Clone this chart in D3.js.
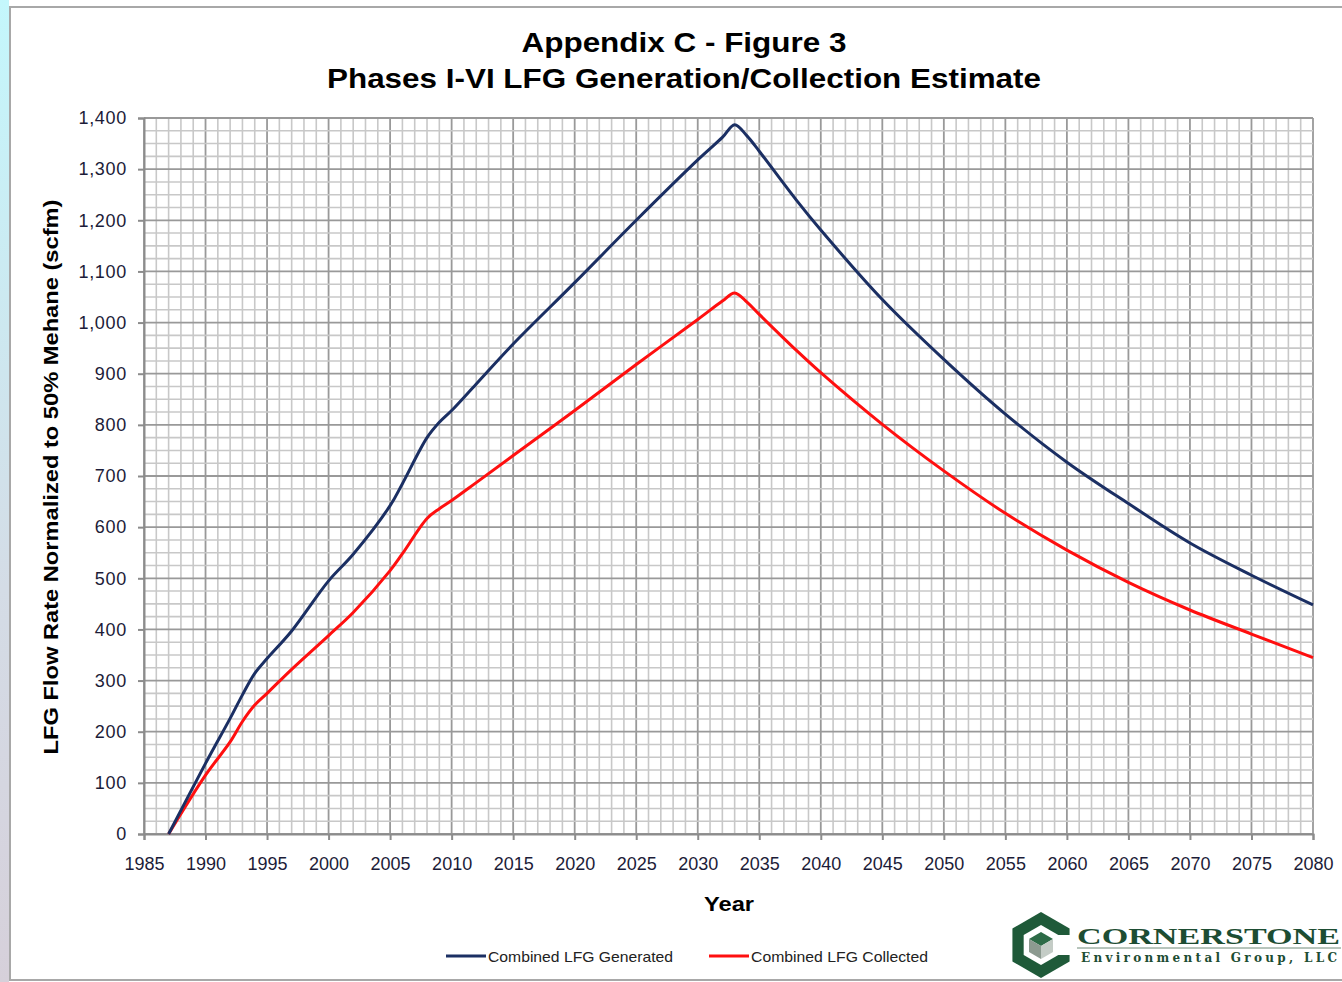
<!DOCTYPE html>
<html>
<head>
<meta charset="utf-8">
<script src="https://cdn.jsdelivr.net/npm/d3@7"></script>
<style>
  body { margin: 0; background: #fff; }
  svg { display: block; }
</style>
</head>
<body>
<div class="chart"></div>
<script>
const years = [1987, 1990, 1992, 1993, 1994, 1995, 1997, 2000, 2002, 2005, 2006, 2008, 2009, 2010, 2012,
  2015, 2020, 2025, 2030, 2032, 2033, 2034, 2035, 2038, 2040, 2045, 2050, 2055, 2060, 2065, 2070, 2075, 2080];
const generated = [0, 138, 226, 272, 314, 343, 397, 495, 547, 642, 685, 775, 805, 828, 880,
  958, 1078, 1200, 1318, 1362, 1387, 1365, 1335, 1240, 1181, 1045, 928, 821, 727, 646, 569, 506, 448];
const collected = [0, 115, 180, 220, 252, 275, 322, 388, 433, 515, 548, 617, 636, 652, 687,
  740, 828, 918, 1006, 1042, 1058, 1040, 1016, 946, 902, 801, 710, 627, 555, 492, 438, 391, 345];
const seriesNames = ['Combined LFG Generated', 'Combined LFG Collected'];
const yTicks = d3.range(0, 1401, 100);
const xTicks = d3.range(1985, 2081, 5);

const svgWidth = 1342,
  svgHeight = 982,
  plotLeft = 144,
  plotRight = 1313,
  plotTop = 118,
  plotBottom = 834,
  genColor = '#1b2f63',
  colColor = '#ff0f0f',
  textColor = '#1c1c38',
  font = 'Arial, "Liberation Sans", sans-serif';

const svg = d3.select('.chart')
  .append('svg')
  .attr('width', svgWidth)
  .attr('height', svgHeight);

// page edge + frame
const grad = svg.append('defs').append('linearGradient')
  .attr('id', 'edge').attr('x1', 0).attr('y1', 0).attr('x2', 0).attr('y2', 1);
grad.append('stop').attr('offset', '0%').attr('stop-color', '#c4f7fc');
grad.append('stop').attr('offset', '60%').attr('stop-color', '#d4dce6');
grad.append('stop').attr('offset', '100%').attr('stop-color', '#d6d0da');

svg.append('rect').attr('x', 0).attr('y', 0).attr('width', 9).attr('height', svgHeight).attr('fill', 'url(#edge)');
svg.append('rect')
  .attr('x', 10).attr('y', 7).attr('width', svgWidth).attr('height', 973)
  .attr('fill', '#fff').attr('stroke', '#a8a8a8').attr('stroke-width', 2);

const xScale = d3.scaleLinear().domain([1985, 2080]).range([plotLeft, plotRight]);
const yScale = d3.scaleLinear().domain([0, 1400]).range([plotBottom, plotTop]);

// grid: minor every year / 25, major every 5 years / 100
const grid = svg.append('g');
grid.selectAll('.vline')
  .data(d3.range(1985, 2081, 1))
  .enter().append('line')
  .attr('x1', d => xScale(d)).attr('x2', d => xScale(d))
  .attr('y1', plotTop).attr('y2', plotBottom)
  .attr('stroke', d => d % 5 === 0 ? '#999' : '#c8c8c8')
  .attr('stroke-width', d => d % 5 === 0 ? 1.8 : 1.6);

grid.selectAll('.hline')
  .data(d3.range(0, 1401, 25))
  .enter().append('line')
  .attr('x1', plotLeft).attr('x2', plotRight)
  .attr('y1', d => yScale(d)).attr('y2', d => yScale(d))
  .attr('stroke', d => d % 100 === 0 ? '#999' : '#c8c8c8')
  .attr('stroke-width', d => d % 100 === 0 ? 1.8 : 1.6);

// axes
const yAxis = d3.axisLeft(yScale)
  .tickValues(yTicks)
  .tickSize(6)
  .tickPadding(11)
  .tickFormat(d3.format(','));

const xAxis = d3.axisBottom(xScale)
  .tickValues(xTicks)
  .tickSize(6)
  .tickPadding(17)
  .tickFormat(d3.format(''));

const gy = svg.append('g')
  .attr('transform', `translate(${plotLeft}, 0)`)
  .call(yAxis);
gy.select('.domain').attr('stroke', '#8c8c8c').attr('stroke-width', 2);
gy.selectAll('line').attr('stroke', '#8c8c8c').attr('stroke-width', 2);
gy.selectAll('text').style('font', `18px ${font}`).style('letter-spacing', '0.7px').attr('fill', textColor);

const gx = svg.append('g')
  .attr('transform', `translate(0, ${plotBottom})`)
  .call(xAxis);
gx.select('.domain').attr('stroke', '#8c8c8c').attr('stroke-width', 2);
gx.selectAll('line').attr('stroke', '#8c8c8c').attr('stroke-width', 2);
gx.selectAll('text').style('font', `18px ${font}`).attr('fill', textColor);

// series
const rows = years.map((y, i) => ({ year: y, gen: generated[i], col: collected[i] }));

const genLine = d3.line()
  .x(d => xScale(d.year))
  .y(d => yScale(d.gen))
  .curve(d3.curveCatmullRom.alpha(0.5));

const colLine = d3.line()
  .x(d => xScale(d.year))
  .y(d => yScale(d.col))
  .curve(d3.curveCatmullRom.alpha(0.5));

svg.append('path')
  .attr('d', colLine(rows))
  .attr('stroke', colColor)
  .attr('stroke-width', 3)
  .attr('fill', 'none');

svg.append('path')
  .attr('d', genLine(rows))
  .attr('stroke', genColor)
  .attr('stroke-width', 3)
  .attr('fill', 'none');

// titles
svg.append('text')
  .attr('x', 684).attr('y', 52)
  .attr('text-anchor', 'middle')
  .attr('textLength', 325).attr('lengthAdjust', 'spacingAndGlyphs')
  .style('font', `bold 27px ${font}`)
  .attr('fill', '#000')
  .text('Appendix C - Figure 3');

svg.append('text')
  .attr('x', 684).attr('y', 88)
  .attr('text-anchor', 'middle')
  .attr('textLength', 714).attr('lengthAdjust', 'spacingAndGlyphs')
  .style('font', `bold 27px ${font}`)
  .attr('fill', '#000')
  .text('Phases I-VI LFG Generation/Collection Estimate');

svg.append('text')
  .attr('transform', `translate(58, 477) rotate(-90)`)
  .attr('text-anchor', 'middle')
  .attr('textLength', 555).attr('lengthAdjust', 'spacingAndGlyphs')
  .style('font', `bold 21px ${font}`)
  .attr('fill', '#000')
  .text('LFG Flow Rate Normalized to 50% Mehane (scfm)');

svg.append('text')
  .attr('x', 729).attr('y', 911)
  .attr('text-anchor', 'middle')
  .attr('textLength', 50).attr('lengthAdjust', 'spacingAndGlyphs')
  .style('font', `bold 21px ${font}`)
  .attr('fill', '#000')
  .text('Year');

// legend
const legend = svg.append('g');
[genColor, colColor].forEach((c, i) => {
  const x0 = i === 0 ? 446 : 709;
  legend.append('line')
    .attr('x1', x0).attr('x2', x0 + 40)
    .attr('y1', 956).attr('y2', 956)
    .attr('stroke', c).attr('stroke-width', 3);
  legend.append('text')
    .attr('x', x0 + 42).attr('y', 962)
    .attr('textLength', i === 0 ? 185 : 177).attr('lengthAdjust', 'spacingAndGlyphs')
    .style('font', `15px ${font}`)
    .attr('fill', '#222')
    .text(seriesNames[i]);
});

// logo
const logo = svg.append('g').attr('transform', 'translate(1041, 945)');
const hex = r => d3.range(6).map(k => {
  const a = (Math.PI / 3) * k - Math.PI / 2;
  return [r * Math.cos(a), r * Math.sin(a)];
});
logo.append('polygon').attr('points', hex(33).join(' ')).attr('fill', '#1f5a39');
logo.append('polygon').attr('points', hex(20).join(' ')).attr('fill', '#fff');
logo.append('rect').attr('x', 14).attr('y', -10).attr('width', 20).attr('height', 20).attr('fill', '#fff');
logo.append('polygon').attr('points', '0,-13 12,-6 0,1 -12,-6').attr('fill', '#2d6b47');
logo.append('polygon').attr('points', '-12,-6 0,1 0,14 -12,7').attr('fill', '#8c9a90');
logo.append('polygon').attr('points', '0,1 12,-6 12,7 0,14').attr('fill', '#c4ccc6');

svg.append('text')
  .attr('x', 1077).attr('y', 944)
  .attr('textLength', 263).attr('lengthAdjust', 'spacingAndGlyphs')
  .style('font', 'bold 24px "Liberation Serif", "DejaVu Serif", serif')
  .attr('fill', '#1d4d33')
  .text('CORNERSTONE');
svg.append('line')
  .attr('x1', 1077).attr('x2', 1341).attr('y1', 948).attr('y2', 948)
  .attr('stroke', '#6f8a78').attr('stroke-width', 1);
svg.append('text')
  .attr('x', 1081).attr('y', 962)
  .attr('textLength', 256).attr('lengthAdjust', 'spacing')
  .style('font', 'bold 12px "DejaVu Serif", "Liberation Serif", serif')
  .attr('fill', '#1d4d33')
  .text('Environmental Group, LLC');
</script>
</body>
</html>
